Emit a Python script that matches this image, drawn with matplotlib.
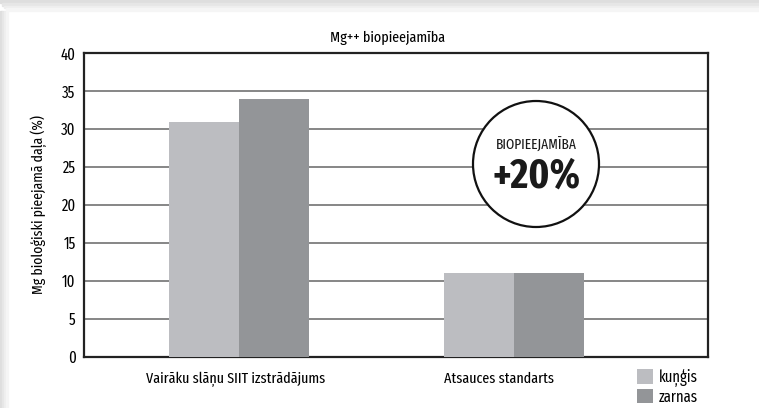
import numpy as np
import matplotlib
matplotlib.use('Agg')
import matplotlib.pyplot as plt
from matplotlib.patches import Ellipse, Rectangle

plt.rcParams['font.family'] = ['Fira Sans Extra Condensed', 'DejaVu Sans']

categories = ['Vairāku slāņu SIIT izstrādājums', 'Atsauces standarts']
series_names = ['kuņģis', 'zarnas']
kungis = [31, 11]
zarnas = [34, 11]
colors = ['#bcbdc1', '#939598']

title = 'Mg++ biopieejamība'
ylabel = 'Mg bioloģiski pieejamā daļa (%)'
badge_top = 'BIOPIEEJAMĪBA'
badge_big = '+20%'

fig = plt.figure(figsize=(7.59, 4.08), dpi=100)
W, H = 759, 408

# light grey shadow on the left and top edge
for i, c in enumerate(['#dedede', '#e6e6e6', '#eeeeee', '#f5f5f5']):
    fig.patches.append(Rectangle((i * 2 / W, 0), 2 / W, 1 - 11 / H, transform=fig.transFigure,
                                 color=c, zorder=-10))
    fig.patches.append(Rectangle((i * 2 / W, 1 - (i * 2.75 + 2.75) / H), 1, 2.75 / H,
                                 transform=fig.transFigure, color=c, zorder=-10))

ax = fig.add_axes([84 / W, 1 - 356.5 / H, 624 / W, 303.2 / H])

x = np.arange(len(categories))
bw = 0.2545
ax.bar(x - bw / 2, kungis, bw, color=colors[0], label=series_names[0], zorder=3)
ax.bar(x + bw / 2, zarnas, bw, color=colors[1], label=series_names[1], zorder=3)

ax.set_xlim(-0.5636, 1.705)
ax.set_ylim(0, 40)
ax.set_yticks(range(0, 41, 5))
ax.yaxis.grid(True, color='#666666', lw=1.1, zorder=1)
ax.set_axisbelow(True)
ax.tick_params(axis='y', length=0, labelsize=11.5, pad=6)
ax.tick_params(axis='x', length=0, labelsize=11, pad=11)
ax.set_xticks(x + np.array([-0.013, -0.055]))
ax.set_xticklabels(categories)
for s in ax.spines.values():
    s.set_linewidth(1.6)
    s.set_color('#222222')

ax.set_ylabel(ylabel, fontsize=10.8, labelpad=10)
fig.text(388 / W, 1 - 38 / H, title, ha='center', va='center', fontsize=11)

# badge
circ = Ellipse((536 / W, 1 - 164 / H), 126 / W, 126 / H, transform=fig.transFigure,
               facecolor='white', edgecolor='#111111', lw=1.6, zorder=5, clip_on=False)
ax.add_patch(circ)
fig.text(536 / W, 1 - 145 / H, badge_top, ha='center', va='center', fontsize=10.5,
         zorder=6, color='#1a1a1a')
fig.text(536 / W, 1 - 176 / H, badge_big, ha='center', va='center', fontsize=30,
         fontweight='bold', zorder=6, color='#1a1a1a')

fig.legend(loc='upper left', bbox_to_anchor=(637 / W, 1 - 369 / H), frameon=False,
           fontsize=11.5, handlelength=1.0, handleheight=1.0, handletextpad=0.35,
           labelspacing=0.12, borderpad=0, borderaxespad=0)

fig.savefig('out.png', dpi=100, facecolor='white')
